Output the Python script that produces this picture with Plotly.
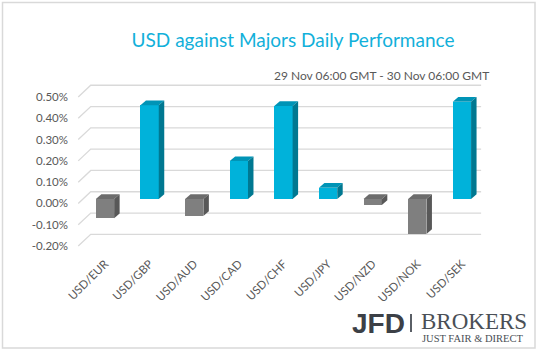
import plotly.graph_objects as go

# ---- data ----
categories = ["USD/EUR", "USD/GBP", "USD/AUD", "USD/CAD", "USD/CHF",
              "USD/JPY", "USD/NZD", "USD/NOK", "USD/SEK"]
values = [-0.09, 0.44, -0.08, 0.178, 0.437, 0.053, -0.028, -0.164, 0.457]  # percent
tick_values = [0.5, 0.4, 0.3, 0.2, 0.1, 0.0, -0.1, -0.2]
title_text = "USD against Majors Daily Performance"
subtitle_text = "29 Nov 06:00 GMT - 30 Nov 06:00 GMT"

# ---- style ----
POS_FRONT, POS_SIDE, POS_TOP = "#00b2da", "#007891", "#0094b6"
NEG_FRONT, NEG_SIDE, NEG_TOP = "#7f7f7f", "#585858", "#6c6c6c"
GRID = "#d9d9d9"
TXT = "#595959"
FONT = "Lato"

W, H = 538, 351
ML, MR, MT, MB = 76, 56, 80, 101
XR = [-0.65, 8.45]
YR = [-0.2395, 0.5587]

bar_w = 0.41
h = bar_w / 2
dx, dy = 0.123, 0.022          # depth of 3-D effect in axis units
front_off, back_off = -0.021, 0.034
x_front, x_back, x_right = -0.6, -0.32, 8.43

fig = go.Figure()

# perspective gridlines (side wall + back wall) on the base axes (drawn first)
gx, gy = [], []
for t in tick_values:
    gx += [x_front, x_back, x_right, None]
    gy += [t + front_off, t + back_off, t + back_off, None]
fig.add_trace(go.Scatter(x=gx, y=gy, mode="lines", xaxis="x", yaxis="y",
                         line=dict(color=GRID, width=1.3),
                         hoverinfo="skip", showlegend=False))

# bars and their 3-D faces on overlaying axes (drawn above the grid)
xs = list(range(len(categories)))
fig.add_trace(go.Bar(
    x=xs, y=values, width=bar_w, xaxis="x2", yaxis="y2",
    marker=dict(color=[POS_FRONT if v >= 0 else NEG_FRONT for v in values],
                line=dict(width=0)),
    showlegend=False))

for i, v in zip(xs, values):
    pos = v >= 0
    side_c = POS_SIDE if pos else NEG_SIDE
    top_c = POS_TOP if pos else NEG_TOP
    top = v if pos else 0.0
    low = 0.0 if pos else v
    fig.add_trace(go.Scatter(
        x=[i - h, i + h, i + h + dx, i - h + dx, i - h],
        y=[top, top, top + dy, top + dy, top],
        xaxis="x2", yaxis="y2",
        fill="toself", fillcolor=top_c, mode="lines",
        line=dict(width=0, color=top_c), hoverinfo="skip", showlegend=False))
    fig.add_trace(go.Scatter(
        x=[i + h, i + h, i + h + dx, i + h + dx, i + h],
        y=[low, top, top + dy, low + dy, low],
        xaxis="x2", yaxis="y2",
        fill="toself", fillcolor=side_c, mode="lines",
        line=dict(width=0, color=side_c), hoverinfo="skip", showlegend=False))

fig.update_layout(
    width=W, height=H,
    margin=dict(l=ML, r=MR, t=MT, b=MB),
    paper_bgcolor="white", plot_bgcolor="white",
    font=dict(family=FONT, color=TXT),
    title=dict(text=title_text, xref="container", yref="container",
               x=293 / W, y=1 - 40 / H, xanchor="center", yanchor="middle",
               font=dict(family=FONT, size=19, color="#12b0da")),
    xaxis=dict(range=XR, tickvals=xs, ticktext=categories, tickangle=-45,
               showgrid=False, zeroline=False, showline=False,
               tickfont=dict(size=11.5, color=TXT), ticklabelstandoff=4),
    yaxis=dict(range=YR,
               tickvals=[t + front_off for t in tick_values],
               ticktext=[f"{t:.2f}%" for t in tick_values],
               showgrid=False, zeroline=False, showline=False,
               tickfont=dict(size=11.5, color=TXT), ticklabelstandoff=7),
    xaxis2=dict(range=XR, overlaying="x", visible=False),
    yaxis2=dict(range=YR, overlaying="y", visible=False),
    bargap=0,
)

pw, ph = W - ML - MR, H - MT - MB
def px(xp):
    return (xp - ML) / pw
def py(yp):
    return (H - MB - yp) / ph

fig.add_annotation(text=subtitle_text, xref="paper", yref="paper",
                   x=px(491), y=py(75), xanchor="right", yanchor="middle",
                   showarrow=False, font=dict(family=FONT, size=12, color=TXT))

# logo
fig.add_annotation(text="<b>JFD</b>", xref="paper", yref="paper",
                   x=px(350), y=py(323), xanchor="left", yanchor="middle",
                   showarrow=False,
                   font=dict(family="Liberation Sans", size=28, color="#3c4046"))
fig.add_shape(type="line", xref="paper", yref="paper",
              x0=px(411), x1=px(411), y0=py(314), y1=py(332),
              line=dict(color="#5a5f66", width=2))
fig.add_annotation(text="BROKERS", xref="paper", yref="paper",
                   x=px(419), y=py(321), xanchor="left", yanchor="middle",
                   showarrow=False,
                   font=dict(family="Liberation Serif", size=23, color="#4a4f56"))
fig.add_annotation(text="JUST FAIR &amp; DIRECT", xref="paper", yref="paper",
                   x=px(420), y=py(338), xanchor="left", yanchor="middle",
                   showarrow=False,
                   font=dict(family="Liberation Serif", size=10.5, color="#4a4f56"))

# chart border
fig.add_shape(type="rect", xref="paper", yref="paper",
              x0=px(2.5), x1=px(535), y0=py(348), y1=py(2.5),
              line=dict(color="#d9d9d9", width=1.5), layer="below")

fig.write_html("out.html")
